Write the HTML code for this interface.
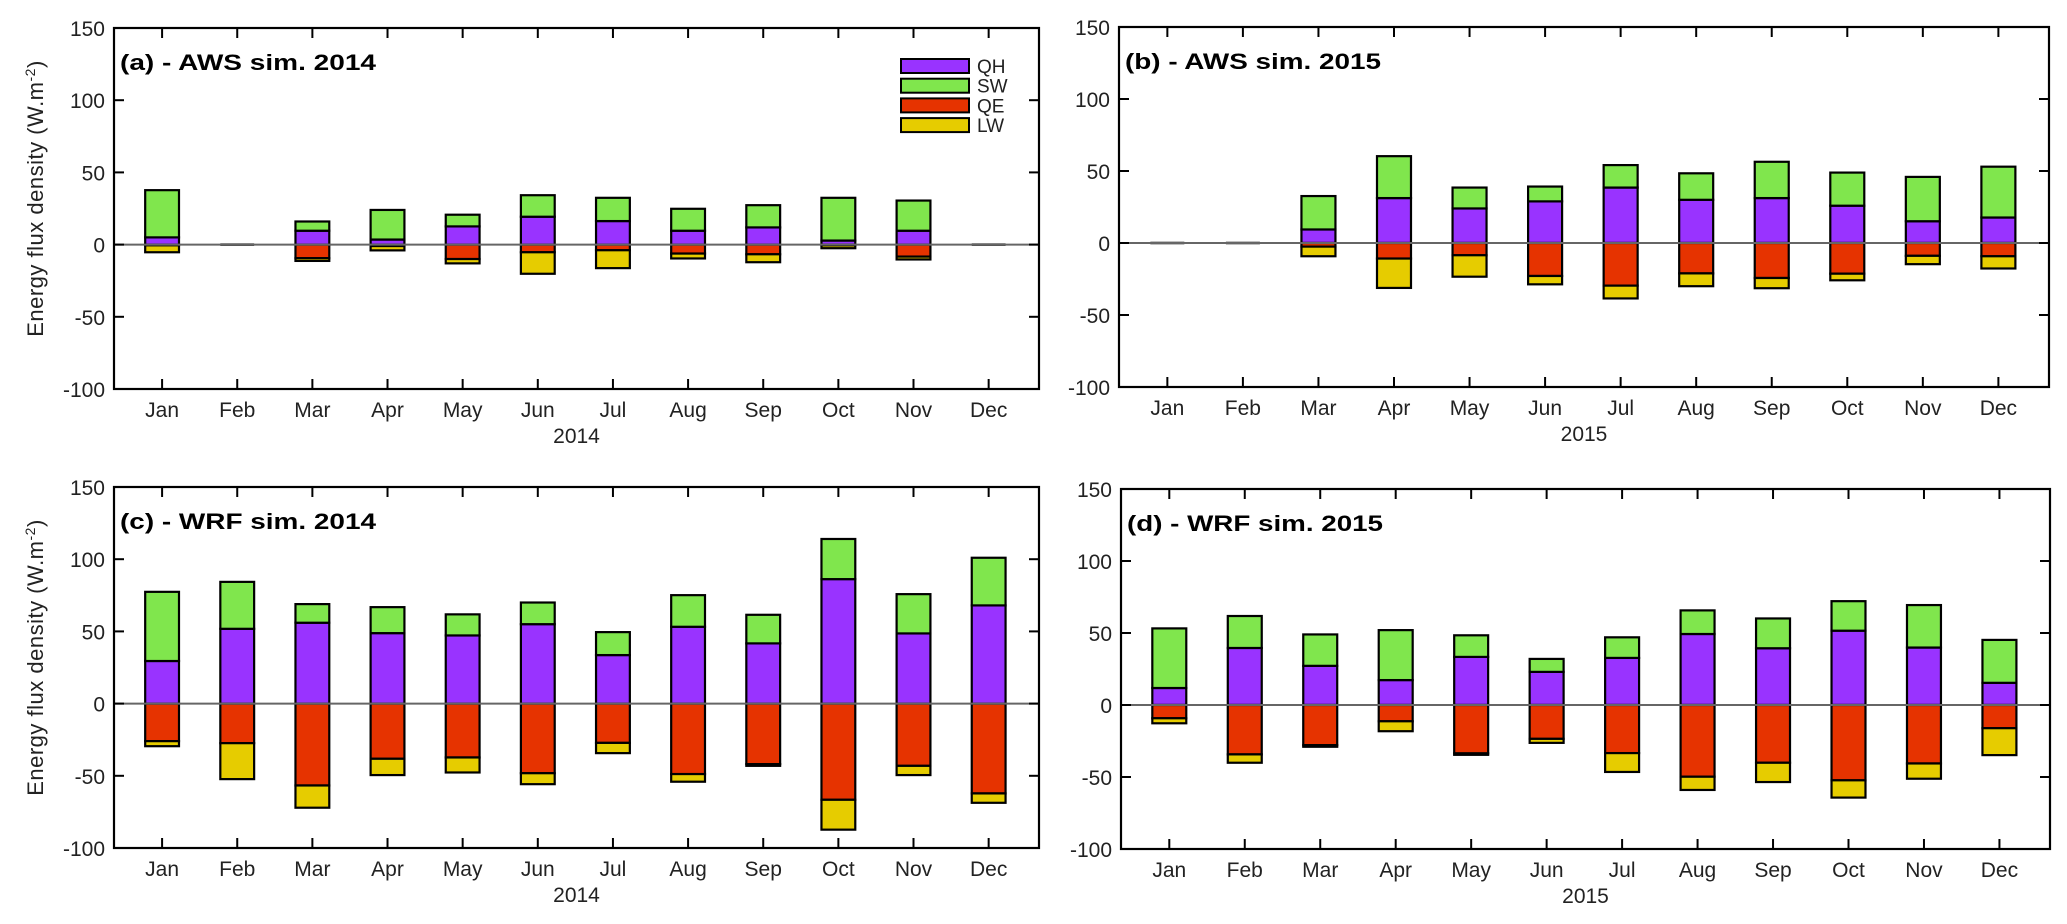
<!DOCTYPE html>
<html><head><meta charset="utf-8"><style>
html,body{margin:0;padding:0;background:#fff;}
svg{display:block;font-family:"Liberation Sans",Arial,sans-serif;}
</style></head><body>
<svg id="chart" width="2067" height="924" viewBox="0 0 2067 924" xmlns="http://www.w3.org/2000/svg"></svg>
<script>
const months = ["Jan","Feb","Mar","Apr","May","Jun","Jul","Aug","Sep","Oct","Nov","Dec"];
const yTicks = [-100,-50,0,50,100,150];
const seriesNames = ["QH","SW","QE","LW"];
const seriesColors = ["#9933ff","#80e64d","#e63300","#e6cc00"];
// panel (a) AWS 2014
const aQH = [5,0,9.6,3.5,12.6,19.3,16.3,9.6,11.9,2.8,9.6,0];
const aSW = [32.7,0,6.4,20.5,8.1,14.9,16.1,15.2,15.4,29.6,20.9,0];
const aQE = [-0.5,0,-9.4,-1,-10,-5.3,-3.9,-6.2,-6.7,-0.5,-8.3,0];
const aLW = [-4.8,0,-1.9,-3,-3,-14.9,-12.4,-3.4,-5.5,-2,-2,0];
// panel (b) AWS 2015
const bQH = [0,0,9.4,31.2,24,28.9,38.5,30,31.2,25.9,15.1,17.7];
const bSW = [0,0,23.2,29.1,14.5,10.3,15.6,18.4,25.2,23,30.8,35.3];
const bQE = [0,0,-2.5,-10.8,-8.5,-22.9,-29.6,-21.1,-24.3,-21.3,-8.9,-9.2];
const bLW = [0,0,-6.7,-20.4,-14.9,-5.8,-8.9,-8.9,-7.1,-4.6,-5.8,-8.5];
// panel (c) WRF 2014
const cQH = [29.5,51.8,56,48.8,47.2,55,33.6,53.2,41.7,86.2,48.6,68];
const cSW = [47.9,32.5,12.9,18,14.6,15,15.9,21.9,19.8,27.8,27.2,33];
const cQE = [-26,-27.4,-56.7,-38.2,-37.3,-48.2,-27.2,-48.8,-41.9,-66.6,-43.1,-62.2];
const cLW = [-3.5,-24.9,-15.4,-11.3,-10.4,-7.6,-7.1,-5.3,-1.2,-20.7,-6.4,-6.5];
// panel (d) WRF 2015
const dQH = [11.8,39.6,27.2,17.3,33.4,23,32.7,49.3,39.4,51.6,39.9,15.4];
const dSW = [41.4,22.2,21.8,34.7,15,9,14.3,16.4,20.7,20.5,29.5,29.8];
const dQE = [-9.2,-34.3,-27.9,-11.3,-33.6,-23.5,-33.4,-49.8,-40.1,-52.3,-40.6,-16.1];
const dLW = [-3.5,-5.8,-1.1,-6.9,-1,-2.8,-13.1,-9.2,-13.4,-12,-10.6,-18.7];

const NS="http://www.w3.org/2000/svg";
const svg=document.getElementById('chart');
function mk(tag,attrs,parent){const e=document.createElementNS(NS,tag);for(const k in attrs)e.setAttribute(k,attrs[k]);(parent||svg).appendChild(e);return e;}

const panels=[
 {id:'a',title:'(a) - AWS sim. 2014',year:'2014',L:114,R:1039,T:28,B:389,data:[aQH,aSW,aQE,aLW],ylab:true,legend:true},
 {id:'b',title:'(b) - AWS sim. 2015',year:'2015',L:1119,R:2049,T:27,B:387,data:[bQH,bSW,bQE,bLW]},
 {id:'c',title:'(c) - WRF sim. 2014',year:'2014',L:114,R:1039,T:487,B:848,data:[cQH,cSW,cQE,cLW],ylab:true},
 {id:'d',title:'(d) - WRF sim. 2015',year:'2015',L:1121,R:2050,T:489,B:849,data:[dQH,dSW,dQE,dLW]}
];
const X0=0.36,X1=12.67,BW=0.45;

panels.forEach(p=>{
  const g=mk('g',{});
  
  
  const xs=v=>p.L+(v-X0)/(X1-X0)*(p.R-p.L);
  const ys=v=>p.B-(v+100)/250*(p.B-p.T);
  // bars
  const bars=mk('g',{},g);
  
  
  months.forEach((m,i)=>{
    let pos=0,neg=0;
    p.data.forEach((ser,s)=>{
      const v=ser[i];
      let y0,y1;
      if(v>=0){y0=pos;y1=pos+v;pos=y1;}else{y0=neg;y1=neg+v;neg=y1;}
      if(Math.abs(v)<1e-9){return;}
      const cx=xs(i+1);
      const r=mk('rect',{x:cx-BW/2*(p.R-p.L)/(X1-X0),y:Math.min(ys(y0),ys(y1)),width:BW*(p.R-p.L)/(X1-X0),height:Math.abs(ys(y1)-ys(y0)),fill:seriesColors[s],stroke:'#000','stroke-width':2.2},bars);
      
      
    });
    if(pos===0&&neg===0){
      const w=BW*(p.R-p.L)/(X1-X0);
      const z=mk('line',{x1:xs(i+1)-w/2,x2:xs(i+1)+w/2,y1:ys(0),y2:ys(0),stroke:'#000','stroke-width':2.5},bars);
      
      
    }
  });
  // zero line
  const zl=mk('line',{x1:p.L,x2:p.R,y1:ys(0),y2:ys(0),stroke:'#666','stroke-width':2},g);
  
  
  // axes box
  const box=mk('rect',{x:p.L,y:p.T,width:p.R-p.L,height:p.B-p.T,fill:'none',stroke:'#000','stroke-width':2.2},g);
  
  
  // x ticks
  months.forEach((m,i)=>{
    const x=xs(i+1);
    mk('line',{x1:x,x2:x,y1:p.B,y2:p.B-10,stroke:'#000','stroke-width':2},g);
    mk('line',{x1:x,x2:x,y1:p.T,y2:p.T+10,stroke:'#000','stroke-width':2},g);
    const t=mk('text',{x:x,y:p.B+28,'text-anchor':'middle','font-size':21,fill:'#222'},g);
    t.textContent=m;
    
    
  });
  // y ticks
  yTicks.forEach(v=>{
    const y=ys(v);
    mk('line',{x1:p.L,x2:p.L+10,y1:y,y2:y,stroke:'#000','stroke-width':2},g);
    mk('line',{x1:p.R,x2:p.R-10,y1:y,y2:y,stroke:'#000','stroke-width':2},g);
    const t=mk('text',{x:p.L-9,y:y+8,'text-anchor':'end','font-size':21,fill:'#222'},g);
    t.textContent=v;
    
    
  });
  // year label
  const yl=mk('text',{x:(p.L+p.R)/2,y:p.B+54,'text-anchor':'middle','font-size':21,fill:'#222'},g);
  yl.textContent=p.year;
  
  
  // title
  const tt=mk('text',{x:p.L+6,y:p.T+42,'font-size':22,'font-weight':'bold',fill:'#000',textLength:256,lengthAdjust:'spacingAndGlyphs'},g);
  tt.textContent=p.title;
  
  
  if(p.ylab){
    const cy=(p.T+p.B)/2-10;
    const t=mk('text',{x:0,y:0,transform:`translate(43 ${cy}) rotate(-90)`,'text-anchor':'middle','font-size':22,fill:'#222','letter-spacing':'0.5'},g);
    t.innerHTML='Energy flux density  (W.m<tspan dy="-8" font-size="14">-2</tspan><tspan dy="8">)</tspan>';
    
    
  }
  if(p.legend){
    const lg=mk('g',{},g);
    
    
    seriesNames.forEach((n,s)=>{
      const y=59+s*19.7;
      const r=mk('rect',{x:901,y:y,width:68,height:14,fill:seriesColors[s],stroke:'#000','stroke-width':2},lg);
      
      
      const t=mk('text',{x:977,y:y+14,'font-size':19,fill:'#222'},lg);
      t.textContent=n;
      
      
    });
  }
});
</script>
</body></html>
